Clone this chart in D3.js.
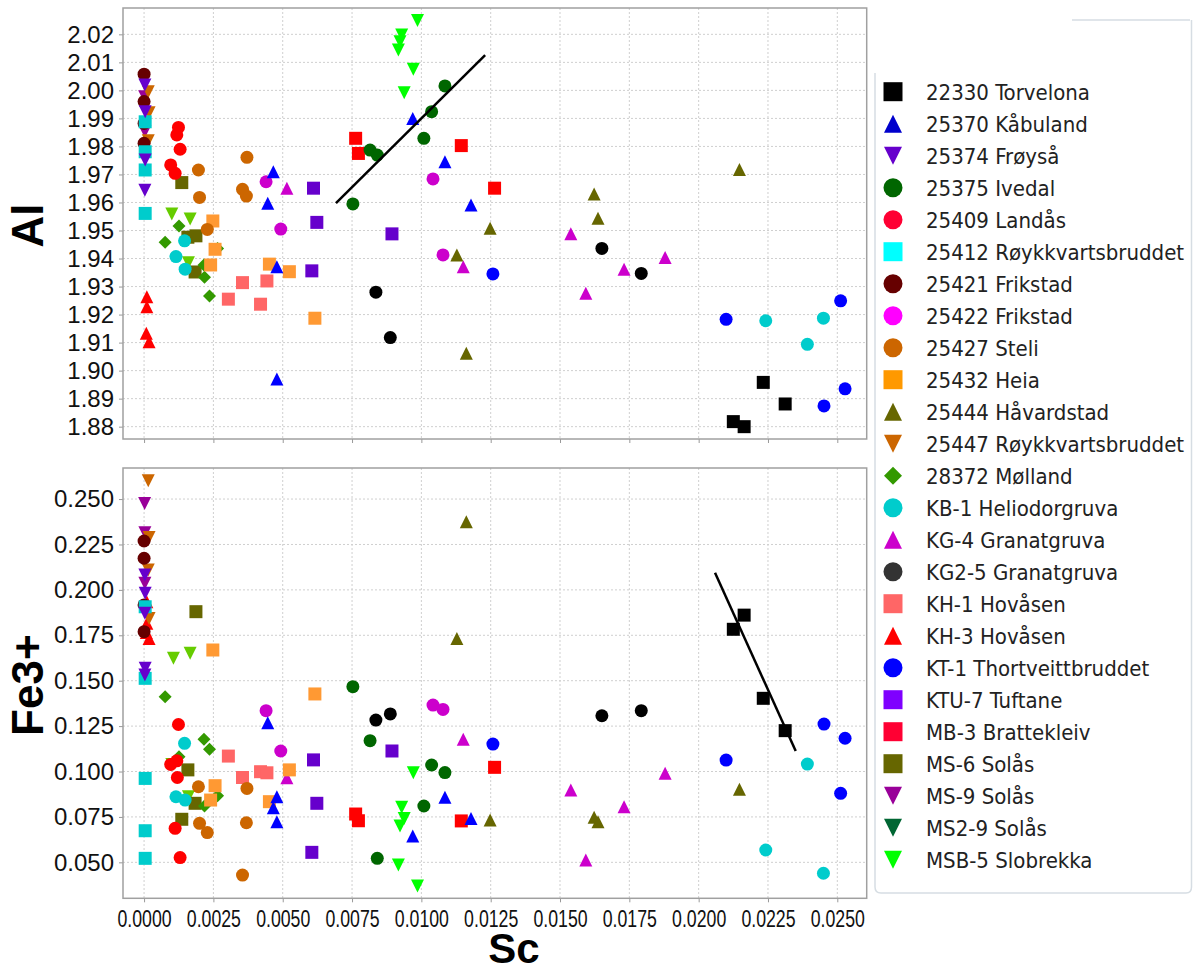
<!DOCTYPE html>
<html>
<head>
<meta charset="utf-8">
<script src="https://cdn.jsdelivr.net/npm/d3@7"></script>
<style>
  body { margin: 0; background: #fff; }
  .tick text { fill: #111; }
</style>
</head>
<body>
<svg width="1193" height="969"></svg>
<script>
// each row: [Sc, Al, Fe3+]  (null = hidden behind other points)
var torvelona22330 = [[0.02125,1.8818,0.1783],[0.02164,1.8800,0.1861],[0.02233,1.8958,0.1403],[0.02312,1.8881,0.1225]];
var kabuland25370 = [[0.00446,1.9597,0.1269],[0.00466,1.9710,0.0801],[0.00479,1.9371,0.0861],[0.00479,1.8970,0.0724],[0.00969,1.9900,0.0645],[0.01085,1.9745,0.0858],[0.01179,1.9591,0.0742]];
var froysa25374 = [[0.00003,2.0019,0.2082],[0.00004,1.9924,0.1981],[0.00003,1.9644,0.1871],[0.00004,1.9752,0.1568],[0.00003,null,0.1531]];
var ivedal25375 = [[0.00753,1.9595,0.1467],[0.00815,1.9787,0.1170],[0.00841,1.9769,0.0522],[0.01009,1.9829,0.0810],[0.01037,1.9924,0.1036],[0.01085,2.0016,0.0994]];
var landas25409 = [[0.00124,1.9868,0.1259],[0.00118,1.9841,0.1059],[0.00130,1.9790,0.0526],[0.00096,1.9734,0.1039],[0.00112,1.9704,0.0687],[0.00120,null,0.0967]];
var royk25412 = [[0.00004,1.9888,0.1907],[0.00004,1.9781,0.1513],[0.00004,1.9716,0.0962],[0.00004,1.9561,0.0674],[0.00004,null,0.0522]];
var frikstad25421 = [[0.0,2.0058,0.2269],[0.0,1.9960,0.2174],[0.0,1.9882,0.1917],[0.0,1.9811,0.1770]];
var frikstad25422 = [[0.00440,1.9674,0.1335],[0.00493,1.9505,0.1113],[0.01042,1.9684,0.1366],[0.01078,1.9413,0.1342]];
var steli25427 = [[0.00196,1.9716,0.0916],[0.00200,1.9618,0.0715],[0.00228,1.9504,0.0664],[0.00371,1.9761,0.0907],[0.00355,1.9647,0.0430],[0.00369,1.9623,0.0718]];
var heia25432 = [[0.00248,1.9534,0.1669],[0.00256,1.9433,0.0922],[0.00240,1.9377,0.0843],[0.00452,1.9380,0.0834],[0.00524,1.9353,0.1009],[0.00616,1.9187,0.1427]];
var havardstad25444 = [[0.01128,1.9413,0.1733],[0.01248,1.9508,0.0733],[0.01162,1.9062,0.2375],[0.01623,1.9630,0.0748],[0.01637,1.9544,0.0724],[0.02147,1.9718,0.0902]];
var royk25447 = [[0.00015,1.9995,0.2601],[0.00018,1.9920,0.2289],[0.00015,1.9820,0.2109],[0.00018,null,0.1843]];
var molland28372 = [[0.00126,1.9516,0.1081],[0.00076,1.9458,0.1412],[0.00265,1.9436,0.0867],[0.00216,1.9377,0.1177],[0.00218,1.9333,0.0810],[0.00236,1.9266,0.1122]];
var kb1 = [[0.00146,1.9463,0.1155],[0.00115,1.9407,0.0861],[0.00148,1.9362,0.0843],[0.02242,1.9178,0.0568],[0.02392,1.9094,0.1041],[0.02450,1.9187,0.0440]];
var kg4 = [[0.00515,1.9651,0.0965],[0.01151,1.9371,0.1177],[0.01539,1.9488,0.0898],[0.01593,1.9276,0.0513],[0.01731,1.9362,0.0806],[0.01879,1.9404,0.0990]];
var kg25 = [[0.00836,1.9280,0.1283],[0.00888,1.9118,0.1317],[0.01651,1.9436,0.1307],[0.01793,1.9347,0.1335]];
var kh1 = [[0.00304,1.9255,0.1085],[0.00355,1.9314,0.0967],[0.00420,1.9237,0.0999],[0.00443,1.9320,0.0993]];
var kh3 = [[0.00010,1.9264,0.1935],[0.00010,1.9228,0.1816],[0.00008,1.9133,0.1766],[0.00018,1.9103,0.1733]];
var kt1 = [[0.01258,1.9345,0.1151],[0.02099,1.9183,0.1063],[0.02512,1.9249,0.0880],[0.02452,1.8874,0.1261],[0.02528,1.8935,0.1183]];
var ktu7 = [[0.00611,1.9651,0.1064],[0.00623,1.9529,0.0825],[0.00605,1.9356,0.0555],[0.00894,1.9488,0.1113]];
var mb3 = [[0.00763,1.9829,0.0766],[0.00773,1.9775,0.0729],[0.01144,1.9803,0.0728],[0.01264,1.9651,0.1023]];
var ms6 = [[0.00136,1.9671,0.0737],[0.00158,1.9476,0.1009],[0.00187,1.9481,0.1880],[0.00184,1.9352,0.0825]];
var ms9 = [[0.00002,1.9977,0.2476],[0.00003,1.9853,0.2315],[0.00003,null,0.2036]];
var ms29 = [];
var msb5 = [[0.00986,2.0249,0.0370],[0.00929,2.0198,0.0803],[0.00923,2.0174,0.0700],[0.00917,2.0144,0.0485],[0.00971,2.0075,0.0993],[0.00938,1.9992,0.0742]];
// yellow-green triangles that are not in the legend
var unlabelled = [[0.00100,1.9559,0.1039],[0.00166,1.9541,0.1651],[0.00160,1.9385,0.0861],[0.00106,null,0.1623]];

var seriesNames = ["22330 Torvelona","25370 Kåbuland","25374 Frøyså","25375 Ivedal","25409 Landås",
  "25412 Røykkvartsbruddet","25421 Frikstad","25422 Frikstad","25427 Steli","25432 Heia",
  "25444 Håvardstad","25447 Røykkvartsbruddet","28372 Mølland","KB-1 Heliodorgruva","KG-4 Granatgruva",
  "KG2-5 Granatgruva","KH-1 Hovåsen","KH-3 Hovåsen","KT-1 Thortveittbruddet","KTU-7 Tuftane",
  "MB-3 Brattekleiv","MS-6 Solås","MS-9 Solås","MS2-9 Solås","MSB-5 Slobrekka"];
var seriesData = [torvelona22330, kabuland25370, froysa25374, ivedal25375, landas25409,
  royk25412, frikstad25421, frikstad25422, steli25427, heia25432,
  havardstad25444, royk25447, molland28372, kb1, kg4,
  kg25, kh1, kh3, kt1, ktu7,
  mb3, ms6, ms9, ms29, msb5];

// fitted lines
var alFit = [[0.00692,1.9598],[0.01230,2.0126]];
var feFit = [[0.02059,0.2094],[0.02350,0.1113]];

var xTicks = d3.range(0, 0.02501, 0.0025);
var alTicks = d3.range(1.88, 2.0201, 0.01);
var feTicks = d3.range(0.05, 0.2501, 0.025);

// styles
var shapes = ["square","up","down","circle","circle","square","circle","circle","circle","square",
  "up","down","diamond","circle","up","circle","square","up","circle","square",
  "square","square","down","down","down"];
var plotColors = ["#000000","#0000ff","#6600cc","#006600","#ff0000","#00cccc","#660000","#cc00cc","#cc6600","#ff9933",
  "#666600","#cc6600","#339900","#00cccc","#cc00cc","#000000","#ff6666","#ff0000","#0000ff","#6600cc",
  "#ff0000","#666600","#990099","#006633","#00ff00"];
var legendColors = ["#000000","#0000cc","#6600cc","#006600","#ff0033","#00ffff","#660000","#ff00ff","#cc6600","#ff9900",
  "#666600","#cc6600","#339900","#00cccc","#cc00cc","#333333","#ff6666","#ff0000","#0000ff","#7f00ff",
  "#ff0033","#666600","#990099","#006633","#00ff00"];

function shapePath(kind, h) {
  if (kind == "square") return "M" + (-h) + "," + (-h) + "h" + 2*h + "v" + 2*h + "h" + (-2*h) + "Z";
  if (kind == "up") return "M0," + (-h) + "L" + h + "," + h + "L" + (-h) + "," + h + "Z";
  if (kind == "down") return "M" + (-h) + "," + (-h) + "L" + h + "," + (-h) + "L0," + h + "Z";
  if (kind == "diamond") return "M0," + (-h) + "L" + h + ",0L0," + h + "L" + (-h) + ",0Z";
  return "M" + (-h) + ",0A" + h + "," + h + " 0 1,0 " + h + ",0A" + h + "," + h + " 0 1,0 " + (-h) + ",0Z";
}

var svg = d3.select("svg");
var left = 123, right = 866.7;

var x = d3.scaleLinear().domain([-0.00076, 0.02606]).range([left, right]);
var panels = [
  { top: 8, bottom: 439, domain: [1.8756, 2.0294], ticks: alTicks, fmt: d3.format(".2f"), col: 1, fit: alFit, title: "Al", labels: false },
  { top: 468, bottom: 898.3, domain: [0.0302, 0.2671], ticks: feTicks, fmt: d3.format(".3f"), col: 2, fit: feFit, title: "Fe3+", labels: true }
];

panels.forEach(function(p) {
  var y = d3.scaleLinear().domain(p.domain).range([p.bottom, p.top]);
  var g = svg.append("g");

  // grid
  g.selectAll(".vg").data(xTicks).enter().append("line")
    .attr("x1", function(d) { return x(d); }).attr("x2", function(d) { return x(d); })
    .attr("y1", p.top).attr("y2", p.bottom)
    .attr("stroke", "#cfcfcf").attr("stroke-dasharray", "2,2");
  g.selectAll(".hg").data(p.ticks).enter().append("line")
    .attr("x1", left).attr("x2", right)
    .attr("y1", function(d) { return y(d); }).attr("y2", function(d) { return y(d); })
    .attr("stroke", "#cfcfcf").attr("stroke-dasharray", "2,2");

  // axes
  var ya = g.append("g").attr("transform", "translate(" + left + ",0)")
    .call(d3.axisLeft(y).tickValues(p.ticks).tickFormat(p.fmt).tickSize(4).tickPadding(5));
  ya.select(".domain").remove();
  ya.selectAll("line").attr("stroke", "#999");
  ya.selectAll("text").attr("font-family", "Liberation Sans, Arial, sans-serif").attr("font-size", 24);

  var xa = g.append("g").attr("transform", "translate(0," + p.bottom + ")")
    .call(d3.axisBottom(x).tickValues(xTicks).tickFormat(p.labels ? d3.format(".4f") : "").tickSize(4).tickPadding(6));
  xa.select(".domain").remove();
  xa.selectAll("line").attr("stroke", "#999");
  // the x labels in the reference are squeezed sideways
  xa.selectAll("text").attr("font-family", "Liberation Sans, Arial, sans-serif")
    .attr("font-size", 23).attr("dy", "0.8em").attr("transform", "scale(0.77,1)");

  // points, last series first so the first series sits on top
  var col = p.col;
  var pts = g.append("g");
  pts.selectAll(".u").data(unlabelled.filter(function(r) { return r[col] != null; })).enter().append("path")
    .attr("d", shapePath("down", 6.5))
    .attr("transform", function(r) { return "translate(" + x(r[0]) + "," + y(r[col]) + ")"; })
    .attr("fill", "#66cc00");
  for (var i = seriesData.length - 1; i >= 0; i--) {
    pts.selectAll(".s" + i).data(seriesData[i].filter(function(r) { return r[col] != null; })).enter().append("path")
      .attr("d", shapePath(shapes[i], 6.5))
      .attr("transform", function(r) { return "translate(" + x(r[0]) + "," + y(r[col]) + ")"; })
      .attr("fill", plotColors[i]);
  }

  // fit line
  g.append("path").datum(p.fit)
    .attr("d", d3.line().x(function(d) { return x(d[0]); }).y(function(d) { return y(d[1]); }))
    .attr("stroke", "#000").attr("stroke-width", 2.5).attr("fill", "none");

  // frame
  g.append("rect").attr("x", left).attr("y", p.top).attr("width", right - left).attr("height", p.bottom - p.top)
    .attr("fill", "none").attr("stroke", "#a0a0a0").attr("stroke-width", 1.5);

  // axis title
  svg.append("text")
    .attr("transform", "translate(43," + ((p.top + p.bottom) / 2 + 2) + ") rotate(-90)")
    .attr("text-anchor", "middle")
    .attr("font-family", "Liberation Sans, Arial, sans-serif").attr("font-weight", "bold").attr("font-size", 44)
    .text(p.title);
});

svg.append("text").attr("x", 514).attr("y", 963).attr("text-anchor", "middle")
  .attr("font-family", "Liberation Sans, Arial, sans-serif").attr("font-weight", "bold").attr("font-size", 42)
  .text("Sc");

// legend
svg.append("line").attr("x1", 1072).attr("x2", 1190).attr("y1", 20).attr("y2", 20)
  .attr("stroke", "#d6dde3").attr("stroke-width", 1.5);
svg.append("path")
  .attr("d", "M875,73 V887 Q875,893 881,893 H1186 Q1191.5,893 1191.5,887 V20")
  .attr("fill", "none").attr("stroke", "#d6dde3").attr("stroke-width", 1.5);

var legend = svg.append("g");
seriesNames.forEach(function(name, i) {
  var cy = 91.7 + i * 32;
  var h = (shapes[i] == "square" || shapes[i] == "circle") ? 9.5 : 9;
  legend.append("path").attr("d", shapePath(shapes[i], h))
    .attr("transform", "translate(893," + cy + ")")
    .attr("fill", legendColors[i]);
  legend.append("text").attr("x", 926).attr("y", cy + 8.5)
    .attr("font-family", "DejaVu Sans Condensed, DejaVu Sans, sans-serif").attr("font-stretch", "condensed")
    .attr("font-size", 22).attr("fill", "#222")
    .text(name);
});
</script>
</body>
</html>
